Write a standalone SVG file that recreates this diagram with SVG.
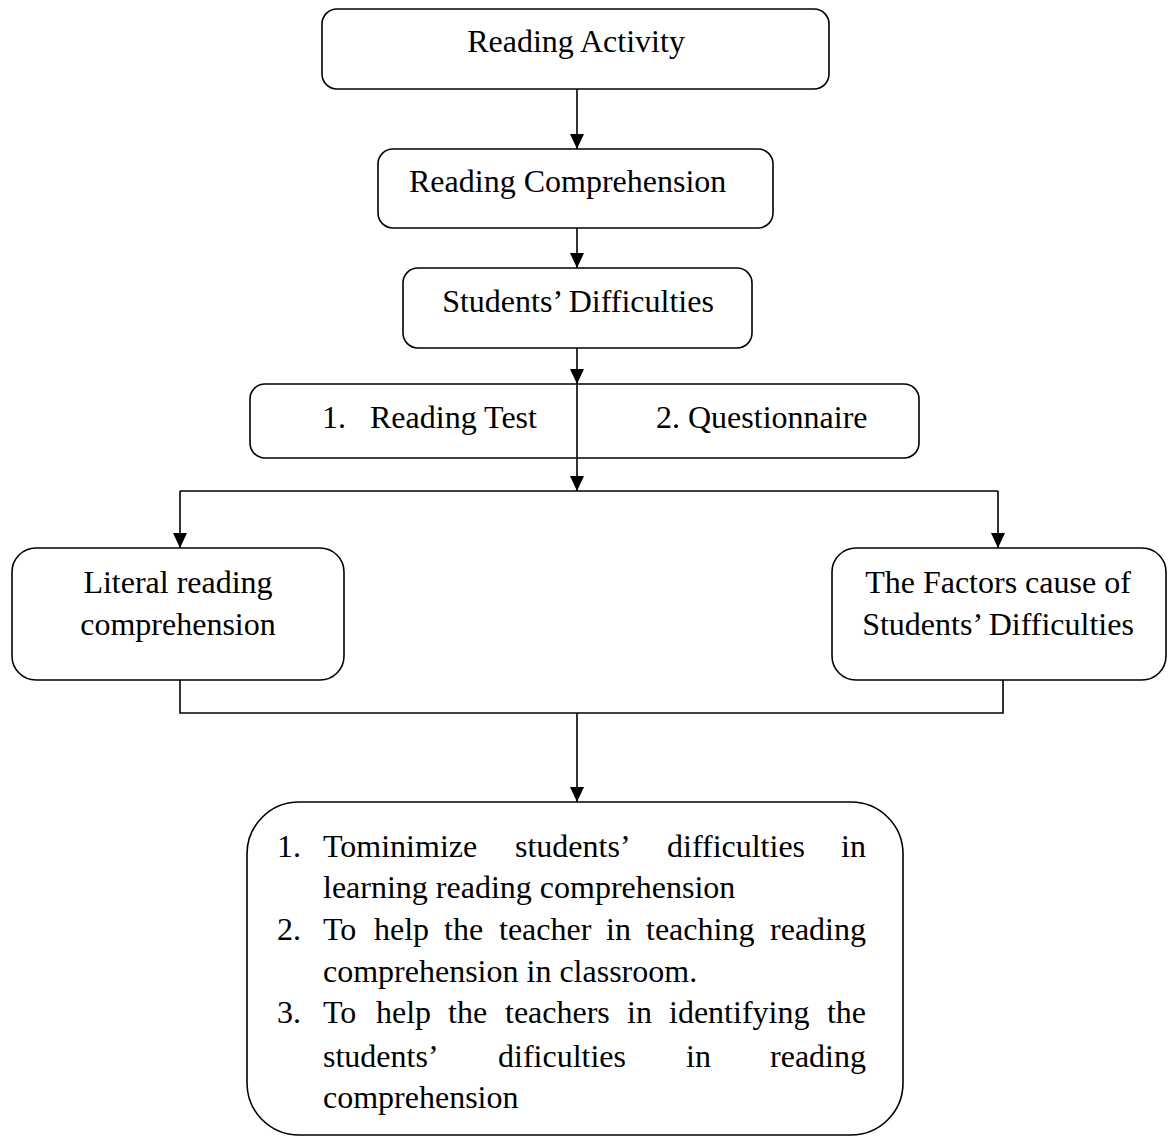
<svg xmlns="http://www.w3.org/2000/svg" width="1168" height="1136" viewBox="0 0 1168 1136">
<style>
.box{fill:#fff;stroke:#000;stroke-width:1.6}
.t{font-family:"Liberation Serif","Times New Roman",serif;font-size:32px;fill:#000}
.c{text-anchor:middle}
.e{text-anchor:end}
.ln{fill:none;stroke:#000;stroke-width:1.6}
</style>
<defs>
<marker id="ah" markerWidth="15" markerHeight="14" refX="15" refY="7" orient="auto" markerUnits="userSpaceOnUse" viewBox="0 0 15 14">
<path d="M0,0 L15,7 L0,14 Z" fill="#000"/>
</marker>
</defs>
<rect width="1168" height="1136" fill="#fff"/>
<g id="n1"><rect class="box" x="322" y="9" width="507" height="80" rx="15"/><text class="t c" x="576" y="52">Reading Activity</text></g>
<g id="n2"><rect class="box" x="378" y="149" width="395" height="79" rx="15"/><text class="t" x="409" y="192">Reading Comprehension</text></g>
<g id="n3"><rect class="box" x="403" y="268" width="349" height="80" rx="15"/><text class="t c" x="578" y="312">Students’ Difficulties</text></g>
<g id="n4"><rect class="box" x="250" y="384" width="669" height="74" rx="15"/><text class="t" x="322" y="428">1.</text><text class="t" x="370" y="428">Reading Test</text><text class="t" x="656" y="428">2. Questionnaire</text></g>
<g id="n5"><rect class="box" x="12" y="548" width="332" height="132" rx="24"/><text class="t c" x="178" y="593">Literal reading</text><text class="t c" x="178" y="635">comprehension</text></g>
<g id="n6"><rect class="box" x="832" y="548" width="334" height="132" rx="24"/><text class="t c" x="998" y="593">The Factors cause of</text><text class="t c" x="998" y="635">Students’ Difficulties</text></g>
<g id="n7"><rect class="box" x="247" y="802" width="656" height="333" rx="52"/>
<text class="t" x="277" y="857">1.</text>
<text class="t" x="323" y="857">Tominimize</text><text class="t" x="515" y="857">students’</text><text class="t" x="667" y="857">difficulties</text><text class="t e" x="866" y="857">in</text>
<text class="t" x="323" y="898">learning reading comprehension</text>
<text class="t" x="277" y="940">2.</text>
<text class="t" x="323" y="940">To</text><text class="t" x="374" y="940">help</text><text class="t" x="444" y="940">the</text><text class="t" x="499" y="940">teacher</text><text class="t" x="606" y="940">in</text><text class="t" x="646" y="940">teaching</text><text class="t e" x="866" y="940">reading</text>
<text class="t" x="323" y="982">comprehension in classroom.</text>
<text class="t" x="277" y="1023">3.</text>
<text class="t" x="323" y="1023">To</text><text class="t" x="376" y="1023">help</text><text class="t" x="448" y="1023">the</text><text class="t" x="505" y="1023">teachers</text><text class="t" x="627" y="1023">in</text><text class="t" x="669" y="1023">identifying</text><text class="t e" x="866" y="1023">the</text>
<text class="t" x="323" y="1067">students’</text><text class="t" x="498" y="1067">dificulties</text><text class="t" x="686" y="1067">in</text><text class="t e" x="866" y="1067">reading</text>
<text class="t" x="323" y="1108">comprehension</text>
</g>
<g id="connectors">
<line class="ln" x1="577" y1="89" x2="577" y2="149" marker-end="url(#ah)"/>
<line class="ln" x1="577" y1="228" x2="577" y2="268" marker-end="url(#ah)"/>
<line class="ln" x1="577" y1="348" x2="577" y2="384" marker-end="url(#ah)"/>
<line class="ln" x1="577" y1="384" x2="577" y2="491" marker-end="url(#ah)"/>
<polyline class="ln" points="180,491 998,491"/>
<line class="ln" x1="180" y1="491" x2="180" y2="548" marker-end="url(#ah)"/>
<line class="ln" x1="998" y1="491" x2="998" y2="548" marker-end="url(#ah)"/>
<polyline class="ln" points="180,680 180,713 1003,713 1003,680"/>
<line class="ln" x1="577" y1="713" x2="577" y2="802" marker-end="url(#ah)"/>
</g>
</svg>
